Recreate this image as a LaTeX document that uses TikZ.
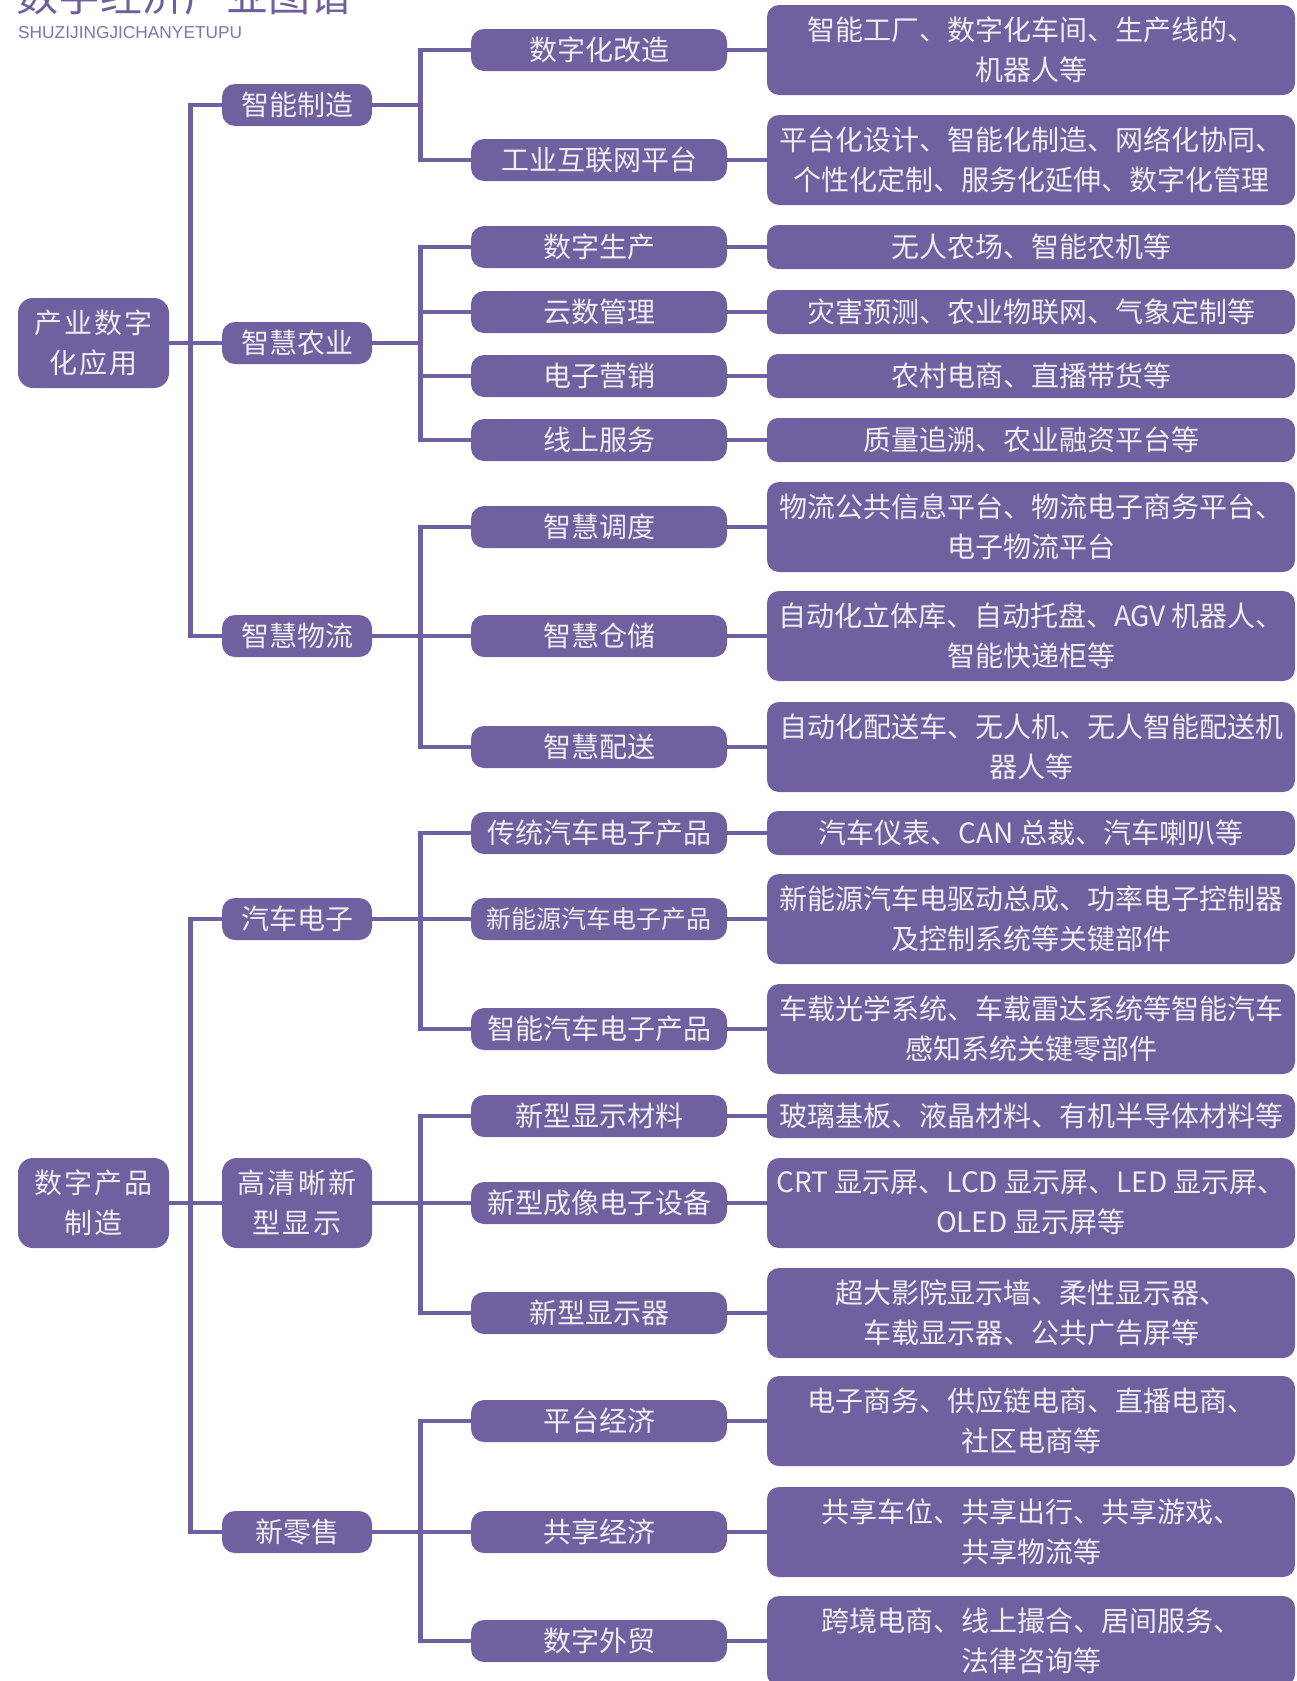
\documentclass[tikz,border=0pt]{standalone}
\usepackage{fontspec}
\newfontfamily\cjk{Noto Sans CJK SC}
\newfontfamily\cjkwide{Noto Sans CJK SC}[LetterSpace=8]
\newfontfamily\latinsub{Liberation Sans}
\definecolor{pur}{HTML}{6F609F}
\definecolor{txtc}{HTML}{F0EEF5}
\definecolor{titlec}{HTML}{6E5F9E}
\definecolor{subc}{HTML}{8072B0}
\tikzset{
  box/.style={fill=pur, text=txtc, inner sep=0pt, align=center, font=\cjk\fontsize{28}{40}\selectfont},
  rootbox/.style={box, minimum width=151pt, minimum height=90pt, rounded corners=15pt, font=\cjkwide\fontsize{28}{40}\selectfont},
  lonebox/.style={box, minimum width=150pt, minimum height=42pt, rounded corners=13pt},
  lonetwo/.style={lonebox, minimum height=90pt, rounded corners=15pt, font=\cjkwide\fontsize{28}{40}\selectfont},
  ltwobox/.style={box, minimum width=256pt, minimum height=42pt, rounded corners=13pt},
  lthreebox/.style={box, minimum width=528pt, minimum height=44pt, rounded corners=11pt},
  lthreetwo/.style={lthreebox, minimum height=90pt, rounded corners=12pt},
  link/.style={draw=pur, line width=4.5pt, line join=miter}
}
\begin{document}
\begin{tikzpicture}[x=1pt,y=-1pt]
\useasboundingbox (0,0) rectangle (1296,1681);
% title
\node[anchor=base west, inner sep=0pt, text=titlec, font=\cjk\fontsize{42}{42}\selectfont] (title) at (16,12) {数字经济产业图谱};
\node[anchor=base west, inner sep=0pt, text=subc, font=\latinsub\fontsize{17.3}{18}\selectfont] (subtitle) at (18,38) {SHUZIJINGJICHANYETUPU};

% roots
\node[rootbox] (ra) at (93.5,343) {产业数字\\化应用};
\node[rootbox] (rb) at (93.5,1203) {数字产品\\制造};

% level 1
\node[lonebox] (a1) at (297,105) {智能制造};
\node[lonebox] (a2) at (297,343) {智慧农业};
\node[lonebox] (a3) at (297,636) {智慧物流};
\node[lonebox] (b1) at (297,919) {汽车电子};
\node[lonetwo] (b2) at (297,1203) {高清晰新\\型显示};
\node[lonebox] (b3) at (297,1532) {新零售};

% level 2
\node[ltwobox] (a1x) at (599,50) {数字化改造};
\node[ltwobox] (a1y) at (599,160) {工业互联网平台};
\node[ltwobox] (a2w) at (599,247) {数字生产};
\node[ltwobox] (a2x) at (599,312) {云数管理};
\node[ltwobox] (a2y) at (599,376) {电子营销};
\node[ltwobox] (a2z) at (599,440) {线上服务};
\node[ltwobox] (a3x) at (599,527) {智慧调度};
\node[ltwobox] (a3y) at (599,636) {智慧仓储};
\node[ltwobox] (a3z) at (599,747) {智慧配送};
\node[ltwobox] (b1x) at (599,833) {传统汽车电子产品};
\node[ltwobox, font=\cjk\fontsize{25}{30}\selectfont] (b1y) at (599,919) {新能源汽车电子产品};
\node[ltwobox] (b1z) at (599,1029) {智能汽车电子产品};
\node[ltwobox] (b2x) at (599,1116) {新型显示材料};
\node[ltwobox] (b2y) at (599,1203) {新型成像电子设备};
\node[ltwobox] (b2z) at (599,1313) {新型显示器};
\node[ltwobox] (b3x) at (599,1421) {平台经济};
\node[ltwobox] (b3y) at (599,1532) {共享经济};
\node[ltwobox] (b3z) at (599,1641) {数字外贸};

% level 3
\node[lthreetwo] (c1) at (1031,50) {智能工厂、数字化车间、生产线的、\\机器人等};
\node[lthreetwo] (c2) at (1031,160) {平台化设计、智能化制造、网络化协同、\\个性化定制、服务化延伸、数字化管理};
\node[lthreebox] (c3) at (1031,247) {无人农场、智能农机等};
\node[lthreebox] (c4) at (1031,312) {灾害预测、农业物联网、气象定制等};
\node[lthreebox] (c5) at (1031,376) {农村电商、直播带货等};
\node[lthreebox] (c6) at (1031,440) {质量追溯、农业融资平台等};
\node[lthreetwo] (c7) at (1031,527) {物流公共信息平台、物流电子商务平台、\\电子物流平台};
\node[lthreetwo] (c8) at (1031,636) {自动化立体库、自动托盘、AGV 机器人、\\智能快递柜等};
\node[lthreetwo] (c9) at (1031,747) {自动化配送车、无人机、无人智能配送机\\器人等};
\node[lthreebox] (c10) at (1031,833) {汽车仪表、CAN 总裁、汽车喇叭等};
\node[lthreetwo] (c11) at (1031,919) {新能源汽车电驱动总成、功率电子控制器\\及控制系统等关键部件};
\node[lthreetwo] (c12) at (1031,1029) {车载光学系统、车载雷达系统等智能汽车\\感知系统关键零部件};
\node[lthreebox] (c13) at (1031,1116) {玻璃基板、液晶材料、有机半导体材料等};
\node[lthreetwo] (c14) at (1031,1203) {CRT 显示屏、LCD 显示屏、LED 显示屏、\\OLED 显示屏等};
\node[lthreetwo] (c15) at (1031,1313) {超大影院显示墙、柔性显示器、\\车载显示器、公共广告屏等};
\node[lthreetwo] (c16) at (1031,1421) {电子商务、供应链电商、直播电商、\\社区电商等};
\node[lthreetwo] (c17) at (1031,1532) {共享车位、共享出行、共享游戏、\\共享物流等};
\node[lthreetwo] (c18) at (1031,1641) {跨境电商、线上撮合、居间服务、\\法律咨询等};

% junctions
\coordinate (jra) at (190.5,343);
\coordinate (jrb) at (190.5,1203);
\coordinate (ja1) at (420.5,105);
\coordinate (ja2) at (420.5,343);
\coordinate (ja3) at (420.5,636);
\coordinate (jb1) at (420.5,919);
\coordinate (jb2) at (420.5,1203);
\coordinate (jb3) at (420.5,1532);

% root connectors
\draw[link] (ra.east) -- (jra);
\draw[link] (jra) |- (a1.west);
\draw[link] (jra) |- (a2.west);
\draw[link] (jra) |- (a3.west);
\draw[link] (rb.east) -- (jrb);
\draw[link] (jrb) |- (b1.west);
\draw[link] (jrb) |- (b2.west);
\draw[link] (jrb) |- (b3.west);

% level-1 connectors
\draw[link] (a1.east) -- (ja1);
\draw[link] (ja1) |- (a1x.west);
\draw[link] (ja1) |- (a1y.west);
\draw[link] (a2.east) -- (ja2);
\draw[link] (ja2) |- (a2w.west);
\draw[link] (ja2) |- (a2x.west);
\draw[link] (ja2) |- (a2y.west);
\draw[link] (ja2) |- (a2z.west);
\draw[link] (a3.east) -- (ja3);
\draw[link] (ja3) |- (a3x.west);
\draw[link] (ja3) |- (a3y.west);
\draw[link] (ja3) |- (a3z.west);
\draw[link] (b1.east) -- (jb1);
\draw[link] (jb1) |- (b1x.west);
\draw[link] (jb1) |- (b1y.west);
\draw[link] (jb1) |- (b1z.west);
\draw[link] (b2.east) -- (jb2);
\draw[link] (jb2) |- (b2x.west);
\draw[link] (jb2) |- (b2y.west);
\draw[link] (jb2) |- (b2z.west);
\draw[link] (b3.east) -- (jb3);
\draw[link] (jb3) |- (b3x.west);
\draw[link] (jb3) |- (b3y.west);
\draw[link] (jb3) |- (b3z.west);

% level-2 to level-3
\draw[link] (a1x.east) -- (c1.west);
\draw[link] (a1y.east) -- (c2.west);
\draw[link] (a2w.east) -- (c3.west);
\draw[link] (a2x.east) -- (c4.west);
\draw[link] (a2y.east) -- (c5.west);
\draw[link] (a2z.east) -- (c6.west);
\draw[link] (a3x.east) -- (c7.west);
\draw[link] (a3y.east) -- (c8.west);
\draw[link] (a3z.east) -- (c9.west);
\draw[link] (b1x.east) -- (c10.west);
\draw[link] (b1y.east) -- (c11.west);
\draw[link] (b1z.east) -- (c12.west);
\draw[link] (b2x.east) -- (c13.west);
\draw[link] (b2y.east) -- (c14.west);
\draw[link] (b2z.east) -- (c15.west);
\draw[link] (b3x.east) -- (c16.west);
\draw[link] (b3y.east) -- (c17.west);
\draw[link] (b3z.east) -- (c18.west);
\end{tikzpicture}
\end{document}
